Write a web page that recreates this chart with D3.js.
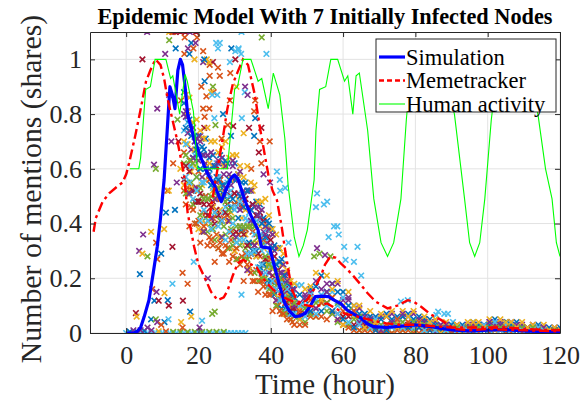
<!DOCTYPE html>
<html>
<head>
<meta charset="utf-8">
<script src="https://cdn.jsdelivr.net/npm/d3@7"></script>
<style>
  body { margin: 0; background: #fff; }
  text { font-family: "Liberation Serif", "Times New Roman", serif; }
</style>
</head>
<body>
<svg id="chart" width="582" height="404"></svg>
<script>

// DATA ========================================================================

var xTicks = [0, 20, 40, 60, 80, 100, 120],
    yTicks = [0, 0.2, 0.4, 0.6, 0.8, 1];

// hours at which the simulation runs are sampled (two interleaved grids)
var runHours = [16,17,18,19,20,21,22,23,24,25,26,27,28,29,30,31,32,33,34,35,36,37,38,39,40,41,42,43,44,45,46,
                48,51,54,57,60,63,66,69,72,75,78,81,84,87,90,93,96,99,102,105,108,111,114,117,120];
var runHoursB = [16.5,17.5,18.5,19.5,20.5,21.5,22.5,23.5,24.5,25.5,26.5,27.5,28.5,29.5,30.5,31.5,32.5,33.5,34.5,35.5,
                 36.5,37.5,38.5,39.5,40.5,41.5,42.5,43.5,44.5,45.5,46.5,
                 49.5,52.5,55.5,58.5,61.5,64.5,67.5,70.5,73.5,76.5,79.5,82.5,85.5,88.5,91.5,94.5,97.5,100.5,103.5,
                 106.5,109.5,112.5,115.5,118.5];

var run1 = [.88,.79,.76,.70,.72,.68,.71,.64,.65,.61,.65,.62,.62,.57,.62,.58,.55,.55,.52,.47,.48,.47,.42,.41,.38,.32,.31,.27,.22,.19,.16,
            .14,.16,.21,.18,.15,.10,.07,.06,.07,.06,.07,.06,.05,.03,.03,.03,.04,.03,.05,.04,.04,.02,.03,.02,.02];
var run2 = [.52,.51,.46,.40,.41,.37,.40,.35,.32,.36,.33,.29,.31,.34,.30,.27,.28,.29,.24,.19,.23,.19,.17,.17,.14,.15,.10,.07,.07,.07,.04,
            .03,.06,.06,.07,.03,.01,.01,.01,.00,.01,.01,.00,.01,.01,.00,.00,.00,.01,.01,.00,.01,.00,.00,.00,.00];
var run3 = [.70,.69,.59,.61,.52,.54,.56,.49,.52,.49,.45,.52,.47,.44,.47,.49,.42,.36,.39,.40,.33,.34,.31,.25,.29,.24,.19,.19,.15,.14,.09,
            .09,.13,.12,.13,.10,.06,.04,.04,.03,.04,.04,.03,.03,.02,.01,.02,.02,.02,.03,.03,.02,.02,.02,.01,.01];
var run4 = [.80,.73,.67,.70,.63,.57,.62,.58,.61,.55,.56,.58,.51,.54,.56,.51,.47,.49,.46,.40,.43,.42,.37,.33,.32,.30,.23,.22,.21,.16,.13,
            .11,.15,.16,.18,.12,.08,.06,.05,.06,.05,.06,.05,.03,.03,.02,.02,.03,.03,.03,.03,.03,.02,.02,.01,.01];
var run5 = [.62,.55,.55,.48,.48,.50,.42,.43,.38,.43,.41,.39,.43,.38,.34,.36,.37,.31,.32,.33,.28,.23,.25,.24,.19,.18,.18,.14,.09,.09,.08,
            .06,.07,.11,.07,.06,.05,.02,.02,.01,.03,.02,.02,.02,.01,.01,.01,.01,.01,.02,.02,.01,.01,.01,.01,.00];
var run6 = [.74,.77,.61,.65,.65,.55,.50,.58,.53,.62,.49,.44,.55,.52,.45,.47,.51,.42,.44,.37,.41,.36,.33,.38,.25,.26,.26,.18,.18,.13,.14,
            .10,.14,.14,.15,.13,.07,.05,.05,.03,.05,.06,.04,.03,.02,.02,.02,.02,.03,.04,.03,.02,.02,.02,.01,.01];
var run7 = [.56,.53,.52,.48,.48,.48,.44,.47,.48,.45,.49,.50,.47,.50,.51,.47,.49,.49,.46,.47,.43,.44,.41,.35,.34,.28,.23,.18,.16,.12,.09,
            .07,.08,.12,.08,.06,.03,.03,.02,.02,.02,.03,.02,.02,.01,.01,.01,.02,.01,.02,.01,.01,.01,.01,.00,.01];
var run8 = [.84,.81,.72,.72,.65,.65,.60,.60,.55,.57,.52,.54,.49,.46,.47,.42,.38,.38,.33,.30,.30,.24,.25,.19,.19,.14,.13,.09,.09,.07,.07,
            .05,.08,.08,.08,.05,.02,.02,.01,.01,.02,.02,.02,.01,.01,.01,.00,.01,.01,.01,.01,.01,.00,.01,.00,.00];
var run9 = [.66,.53,.63,.53,.59,.44,.50,.56,.42,.49,.56,.42,.43,.37,.47,.36,.46,.38,.28,.37,.36,.28,.34,.27,.27,.19,.19,.20,.11,.13,.10,
            .08,.12,.11,.13,.08,.08,.02,.03,.03,.05,.04,.04,.02,.02,.01,.01,.02,.02,.02,.02,.02,.02,.01,.01,.01];
var run10 = [.54,.81,.53,.67,.38,.71,.40,.62,.46,.53,.35,.61,.41,.56,.30,.58,.33,.45,.23,.52,.28,.39,.20,.39,.24,.26,.13,.25,.07,.19,.11,
             .05,.17,.12,.16,.03,.10,.02,.04,.06,.02,.06,.03,.04,.00,.02,.01,.04,.02,.01,.04,.02,.02,.00,.01,.01];

// runs on the half-hour grid
var run11 = [.81,.74,.75,.71,.72,.65,.65,.66,.61,.63,.64,.61,.58,.61,.57,.59,.52,.52,.52,.46,.46,.45,.39,.38,.36,.31,.26,.25,.22,.17,.16,
             .14,.19,.18,.18,.12,.09,.06,.06,.07,.06,.07,.05,.04,.03,.03,.03,.03,.04,.04,.04,.03,.03,.02,.02];
var run12 = [.51,.51,.47,.40,.43,.37,.37,.40,.34,.31,.35,.36,.31,.32,.27,.32,.27,.27,.29,.22,.19,.20,.20,.16,.15,.10,.12,.08,.07,.05,.06,
             .04,.06,.08,.04,.03,.01,.02,.01,.00,.01,.01,.01,.00,.01,.00,.00,.01,.01,.01,.00,.01,.00,.01,.00];
var run13 = [.69,.61,.64,.57,.60,.55,.49,.54,.49,.57,.50,.46,.50,.46,.46,.48,.39,.41,.41,.36,.35,.30,.35,.29,.25,.25,.18,.18,.16,.12,.11,
             .10,.12,.15,.10,.08,.05,.05,.03,.04,.04,.05,.03,.02,.02,.02,.02,.02,.02,.03,.03,.02,.02,.01,.01];
var run14 = [.61,.59,.52,.48,.51,.47,.43,.46,.40,.43,.41,.44,.41,.36,.37,.39,.36,.32,.29,.32,.29,.25,.27,.22,.21,.16,.17,.12,.11,.08,.09,
             .07,.09,.11,.07,.06,.03,.03,.02,.03,.02,.03,.02,.02,.01,.01,.01,.01,.01,.02,.02,.01,.01,.01,.01];
var run15 = [.75,.78,.64,.67,.60,.67,.59,.54,.61,.56,.54,.63,.56,.49,.56,.50,.46,.52,.45,.39,.43,.40,.35,.40,.31,.25,.26,.21,.18,.14,.13,
             .12,.17,.15,.15,.10,.07,.06,.05,.05,.06,.05,.05,.03,.02,.02,.02,.03,.03,.03,.03,.02,.02,.02,.01];
var run16 = [.47,.39,.45,.40,.33,.39,.32,.34,.26,.31,.29,.32,.26,.28,.31,.25,.19,.25,.22,.19,.15,.19,.14,.14,.08,.12,.08,.07,.05,.05,.03,
             .03,.06,.05,.05,.02,.01,.01,.00,.00,.01,.00,.00,.01,.00,.00,.00,.00,.00,.01,.00,.00,.00,.00,.00];
var run17 = [.87,.86,.77,.78,.74,.71,.75,.70,.70,.66,.68,.70,.64,.65,.65,.61,.57,.61,.55,.54,.48,.48,.49,.43,.38,.36,.31,.29,.23,.19,.18,
             .16,.22,.21,.19,.15,.10,.08,.07,.08,.08,.08,.06,.05,.04,.03,.04,.04,.05,.05,.04,.04,.03,.03,.02];
var run18 = [.79,.51,.64,.53,.70,.37,.59,.42,.49,.62,.35,.53,.41,.63,.35,.45,.50,.23,.41,.32,.43,.22,.36,.22,.36,.12,.22,.14,.19,.07,.10,
             .13,.09,.15,.05,.13,.04,.05,.01,.04,.07,.02,.04,.00,.03,.01,.02,.01,.04,.03,.01,.02,.00,.02,.01];
var run19 = [.65,.63,.62,.57,.53,.49,.49,.50,.51,.53,.50,.48,.45,.42,.39,.39,.39,.39,.39,.39,.35,.32,.28,.25,.24,.22,.20,.17,.13,.12,.11,
             .09,.11,.11,.11,.08,.06,.04,.03,.03,.04,.04,.03,.02,.01,.02,.02,.02,.02,.02,.02,.02,.02,.01,.01];
var run20 = [.57,.55,.49,.52,.41,.45,.41,.38,.44,.39,.41,.34,.37,.40,.33,.34,.34,.29,.29,.30,.24,.25,.22,.17,.19,.16,.12,.13,.09,.07,.07,
             .06,.07,.10,.07,.04,.03,.02,.02,.02,.02,.02,.01,.01,.01,.01,.01,.01,.01,.01,.01,.01,.01,.01,.00];

// loose markers: [hour, value, colour index]
var loosePoints = [
  [4.7,.36,3],[6.9,.37,2],[8.3,.33,1],[3.6,.30,3],[4.5,.29,2],[5.9,.28,4],[9.7,.29,0],[8.6,.27,1],[12.8,.315,6],
  [3.8,.215,0],[15.6,.22,1],[12.8,.18,5],[17,.18,1],[7.2,.16,1],[8.4,.15,3],[10.6,.146,2],[7.8,.118,0],[9,.118,6],
  [11.5,.12,0],[11.8,.10,6],[15.7,.118,6],[17.7,.078,0],[18,.06,2],[24.5,.078,4],[23.8,.07,4],[21,.045,5],[2.7,.073,6],
  [2.9,.06,2],[6.9,.05,0],[8.2,.05,4],[8.6,.04,3],[10.6,.04,0],[11.7,.05,5],[9.7,.03,1],[15.2,.04,2],[15.6,.02,1],
  [20.3,.02,3],[5.9,.02,3],[22.6,.2,3],[18.7,.26,5],[10.5,.38,2],[11,.44,0],[11.4,.52,1],[11.8,.52,2],[4.5,1.0,6],
  [10.8,1.02,3],[8.6,.82,3],[7.7,.615,3],[8.2,.60,4],[11.9,.87,3],[5.8,1.10,3],[11.9,1.10,2],[11.9,1.07,4],[12.8,1.10,1],
  [15,1.10,6],[13.7,1.04,0],[16.1,1.02,1],[13,.62,1],[14,.55,3],[14.5,.70,6],[13.5,.45,0],[15,.60,2],[14.2,.78,4],
  [15.2,.85,1],[12.5,.70,3],
  [12.9,1.10,1],[13.6,1.10,6],[16.4,1.10,6],[17.6,1.10,3],[16.2,1.08,1],[18,1.06,0],[19.2,1.06,3],[17.1,1.04,3],
  [21.3,1.03,1],[25.9,1.06,5],[31,1.035,5],[31.8,1.02,5],[31.9,1.10,5],[37.5,1.08,4],[17.5,1.02,0],[18.6,1.04,1],
  [18.9,1.0,2],[21.3,.99,3],[22.3,1.0,2],[23.1,.98,1],[24,.99,6],[28.7,.99,5],[29.1,1.04,0],[30.2,1.0,6],[25.4,.97,1],
  [25.9,.94,1],[23.1,.94,1],[21.7,.92,0],[20.8,.90,1],[24,.90,4],[24.2,.88,1],[22.2,.865,1],[21.3,.82,1],[23,.82,1],
  [21.7,.79,1],[26.8,.80,0],[28.7,.85,1],[32.9,.90,3],[35.7,.85,1],[35.7,.785,0],[32,.785,5],[32.5,.73,2],[34,.75,6],
  [35.4,.72,0],[29.6,.756,6],[26.4,.71,1],[37,.70,1],[36.7,.66,6],[21.6,1.0,0],[23,.99,2],[24.9,1.06,5],[25.4,1.04,5],
  [30.2,1.03,5],[31.1,1.04,5],[38.8,1.02,5],[23.5,.88,2],[23.8,.87,5],[25.2,.87,5],[32.8,.88,5],[33.6,.87,3],
  [35.4,.81,1],[30.5,.90,2],[28.8,.95,1],[21.6,.75,6],[24.4,.785,5],[24.7,.76,4],[28.1,.76,1],[29,.72,0],[37.4,.75,6],
  [37.4,.62,1],[39.7,.70,1],[34.6,.60,1],[19.3,1.10,6],[19.6,1.08,1],
  [41.7,.59,5],[42.5,.56,5],[44,.53,5],[42.6,.52,5],[38,.58,3],[39.8,.55,3],[44.9,.33,5],[31.9,.14,5],[47.3,.175,5],
  [48.5,.175,5],[52.8,.51,5],[55.6,.48,5],[54.7,.47,5],[52.5,.46,5],[57.5,.39,5],[58.4,.39,5],[56,.35,5],[58.8,.36,5],
  [60.3,.315,5],[64,.315,5],[60.7,.267,5],[63,.26,5],[65,.21,5],[52,.28,4],[53.5,.29,4],[55,.285,3],[56.5,.28,4],
  [52.8,.31,3],[76,.115,5],[77.9,.12,5],[86.3,.078,5],[88,.07,5],[85.8,.066,5],[89,.07,5],[90.4,.04,5],[96,.03,6],
  [105.3,.04,0],[102,.03,5]
];

// markers lying on the zero line: [hour, value, colour index]
var zeroPoints = [
  [0,0,5],[1,0,5],[2,0,5],[3,0,5],[4,0,5],[5,0,5],[6,0,5],[7,0,5],[8,0,5],[9,0,5],[10,0,5],[11,0,5],
  [12,0,5],[13,0,5],[14,0,5],[15,0,5],[16,0,5],[17,0,5],[18,0,5],[19,0,5],[20,0,5],[21,0,5],[22,0,5],
  [23,0,5],[24,0,5],[25,0,5],[26,0,5],[27,0,5],[28,0,5],[29,0,5],[30,0,5],[31,0,5],[32,0,5],[33,0,5],
  [1,.005,0],[3,.005,0],[5,.008,0],[2,.01,3],[4,.01,3],[7,.01,3],[13,.004,4],[15,.004,4],[17,.004,4],
  [19,.004,4],[21,.004,4],[23,.004,4],[25,.004,4],[27,.004,4],[9,.006,2],[11,.006,1]
];

var simulation = [
  [0,0],[2,0],[3,.005],[4,.02],[5,.06],[6.3,.12],[7.5,.22],[8.6,.315],[9.5,.42],[10.5,.56],[11.4,.75],[12.1,.90],
  [12.8,.87],[13.5,.82],[14.3,.96],[15,1.0],[15.6,.98],[16.3,.90],[17,.80],[18.8,.71],[20.7,.64],[22.6,.58],
  [24.4,.54],[26.3,.48],[27.5,.52],[29,.565],[30,.578],[31,.56],[32.8,.486],[34.5,.43],[36.5,.376],[37.4,.315],
  [39.7,.31],[41.1,.24],[42.5,.17],[43.9,.108],[45.2,.08],[46.7,.06],[48,.062],[49.5,.072],[51,.10],[52.3,.133],
  [54,.135],[56,.133],[57.5,.12],[59.3,.108],[61,.085],[62.8,.07],[64.9,.055],[66.5,.035],[68.5,.023],[72,.02],
  [76,.025],[80,.03],[84.4,.023],[88,.015],[90.8,.01],[95,.008],[100,.01],[105,.012],[110,.008],[115,.005],[120,.005]
];

var memetrackerA = [
  [-9,.37],[-8.4,.42],[-6.5,.48],[-4.7,.51],[-2.5,.535],[-1,.55],[0,.58],[.8,.62],[2.5,.72],[3.9,.81],[5.5,.92],
  [6.7,.96],[8.1,1.0],[9.5,.98],[10.5,.93],[11.4,.86],[12.8,.78],[14.2,.70],[16,.58],[17,.44],[18.8,.315],[20,.25],
  [21.6,.206],[23.5,.15],[25.3,.12],[27,.13],[28.1,.157],[29.5,.21],[30.9,.255],[32.4,.267],[34,.255],[36.1,.24],
  [37.4,.21],[39,.18],[40.8,.157],[43.6,.13],[47.3,.108],[51.9,.096],[55.6,.108],[60.3,.072],[64,.06],[67.7,.047],
  [72,.035],[76,.03],[80,.03],[85,.025],[90,.02],[95,.02],[100,.02],[105,.02],[110,.015],[115,.012],[120,.01]
];

var memetrackerB = [
  [23,.42],[24.5,.54],[25.8,.64],[26.7,.71],[28,.82],[29.5,.91],[30.9,.956],[32.3,1.0],[33.7,.98],[35.6,.87],[37,.75],
  [39.3,.58],[40.5,.52],[41.7,.486],[43,.39],[44,.30],[45,.22],[45.9,.157],[47,.125],[48.2,.108],[50,.12],[52,.16],
  [53.8,.206],[55,.25],[56.5,.28],[58,.275],[59.3,.255],[61,.235],[63,.206],[65,.175],[66.8,.145],[69,.115],
  [72.3,.09],[75,.10],[77.9,.12],[79.5,.115],[81.6,.096],[84,.07],[87.2,.047],[90.8,.015],[95,.01],[100,.015],
  [105,.012],[110,.01],[115,.008],[120,.006]
];

var humanActivity = [
  [1,.60],[3.5,.60],[4,.64],[5.4,.89],[6.7,.90],[8,1.0],[11,1.0],[12.3,.93],[12.9,.94],[14.8,.80],[16.3,.945],
  [16.9,.92],[18.6,.81],[19.7,.60],[28,.60],[30,.89],[30.8,.90],[32.3,1.0],[34.5,1.0],[36.5,.92],[37.5,.93],
  [39.3,.82],[40.7,.95],[42.5,.87],[43.9,.71],[44.8,.54],[46.5,.35],[47.8,.28],[49,.32],[50.1,.376],[52,.56],
  [52.5,.74],[53.5,.89],[55.2,.90],[56.6,1.0],[58.5,1.0],[60.4,.92],[61.3,.94],[62.7,.80],[63.6,.94],[64.5,.95],
  [66.8,.74],[68.5,.49],[70.5,.33],[72.3,.28],[74,.33],[76,.49],[77.5,.78],[79,1.0],[82,1.0],[84,.95],[86,.98],
  [88,.95],[90.8,.80],[93.6,.49],[95,.33],[96.4,.28],[97.8,.33],[99.2,.49],[101,.78],[103,1.0],[106,1.0],
  [108,.95],[110,.98],[112,.95],[114,.79],[116,.60],[117.8,.49],[119,.33],[120,.28]
];

var runColors = ["#0072BD", "#D95319", "#EDB120", "#7E2F8E", "#77AC30", "#4DBEEE", "#A2142F"];

// CHART =======================================================================

var runs = [run1, run2, run3, run4, run5, run6, run7, run8, run9, run10],
    runsB = [run11, run12, run13, run14, run15, run16, run17, run18, run19, run20];

var svg = d3.select("#chart"),
    margin = {top: 32, right: 22, bottom: 71, left: 90},
    width = +svg.attr("width") - margin.left - margin.right,
    height = +svg.attr("height") - margin.top - margin.bottom,
    axisColor = "#262626";

var x = d3.scaleLinear().domain([-10, 120]).range([0, width]),
    y = d3.scaleLinear().domain([0, 1.1]).range([height, 0]);

var g = svg.append("g")
    .attr("transform", "translate(" + margin.left + "," + margin.top + ")");

svg.append("defs").append("clipPath").attr("id", "plot-clip")
  .append("rect").attr("width", width).attr("height", height);

// grid
g.append("g").selectAll("line").data(xTicks).enter().append("line")
    .attr("x1", function(d) { return x(d); }).attr("x2", function(d) { return x(d); })
    .attr("y1", 0).attr("y2", height)
    .attr("stroke", "#e3e3e3").attr("stroke-width", 1);
g.append("g").selectAll("line").data(yTicks).enter().append("line")
    .attr("y1", function(d) { return y(d); }).attr("y2", function(d) { return y(d); })
    .attr("x1", 0).attr("x2", width)
    .attr("stroke", "#e3e3e3").attr("stroke-width", 1);

var plot = g.append("g").attr("clip-path", "url(#plot-clip)");

// scatter of simulation runs
var marker = "M-2.8,-2.8L2.8,2.8M-2.8,2.8L2.8,-2.8";
var pts = [];
function addRuns(list, hours, offset) {
    list.forEach(function(r, i) {
        r.forEach(function(v, j) {
            if (v !== undefined && hours[j] !== undefined) pts.push([hours[j], v, (i + offset) % 7]);
        });
    });
}
addRuns(runs, runHours, 0);
addRuns(runsB, runHoursB, 10);

var allPts = zeroPoints.concat(loosePoints).concat(pts);

plot.append("g").selectAll("path").data(allPts).enter().append("path")
    .attr("d", marker)
    .attr("transform", function(d) { return "translate(" + x(d[0]) + "," + y(d[1]) + ")"; })
    .attr("fill", "none")
    .attr("stroke", function(d) { return runColors[d[2]]; })
    .attr("stroke-width", 1.6);

var line = d3.line()
    .x(function(d) { return x(d[0]); })
    .y(function(d) { return y(d[1]); });

plot.append("path").datum(simulation)
    .attr("d", line).attr("fill", "none")
    .attr("stroke", "#0000FF").attr("stroke-width", 3.2)
    .attr("stroke-linejoin", "round");

[memetrackerA, memetrackerB].forEach(function(s) {
    plot.append("path").datum(s)
        .attr("d", line).attr("fill", "none")
        .attr("stroke", "#FF0000").attr("stroke-width", 2.4)
        .attr("stroke-dasharray", "10,4,3,4");
});

plot.append("path").datum(humanActivity)
    .attr("d", line).attr("fill", "none")
    .attr("stroke", "#00FF00").attr("stroke-width", 1.1);

// axes, ticks pointing inwards on all four sides
function styleAxis(sel) {
    sel.selectAll("path, line").attr("stroke", axisColor);
    sel.selectAll("text")
        .attr("fill", axisColor)
        .style("font-family", '"Liberation Serif", "Times New Roman", serif')
        .style("font-size", "26px");
}

g.append("g")
    .attr("transform", "translate(0," + height + ")")
    .call(d3.axisBottom(x).tickValues(xTicks).tickSizeInner(-5).tickSizeOuter(0).tickPadding(13))
    .call(styleAxis);

g.append("g")
    .call(d3.axisLeft(y).tickValues(yTicks).tickSizeInner(-5).tickSizeOuter(0).tickPadding(8)
        .tickFormat(function(d) { return d; }))
    .call(styleAxis);

g.append("g")
    .call(d3.axisTop(x).tickValues(xTicks).tickSizeInner(-5).tickSizeOuter(0).tickFormat(""))
    .call(styleAxis);

g.append("g")
    .attr("transform", "translate(" + width + ",0)")
    .call(d3.axisRight(y).tickValues(yTicks).tickSizeInner(-5).tickSizeOuter(0).tickFormat(""))
    .call(styleAxis);

// labels
svg.append("text")
    .attr("x", margin.left + width / 2).attr("y", 24)
    .attr("text-anchor", "middle")
    .style("font-size", "22.3px").style("font-weight", "bold")
    .attr("fill", "#000")
    .text("Epidemic Model With 7 Initially Infected Nodes");

svg.append("text")
    .attr("x", margin.left + width / 2).attr("y", 394)
    .attr("text-anchor", "middle")
    .style("font-size", "29px")
    .attr("fill", axisColor)
    .text("Time (hour)");

svg.append("text")
    .attr("transform", "translate(41,189) rotate(-90)")
    .attr("text-anchor", "middle")
    .style("font-size", "29.8px")
    .attr("fill", axisColor)
    .text("Number of mentions (shares)");

// legend
var legendItems = [
    {name: "Simulation", color: "#0000FF", width: 3.2, dash: null},
    {name: "Memetracker", color: "#FF0000", width: 2.4, dash: "5,3"},
    {name: "Human activity", color: "#00FF00", width: 1.1, dash: null}
];

var legend = svg.append("g").attr("transform", "translate(376,39)");
legend.append("rect")
    .attr("width", 180).attr("height", 73)
    .attr("fill", "#fff").attr("stroke", axisColor).attr("stroke-width", 1);

var item = legend.selectAll(".item").data(legendItems).enter().append("g")
    .attr("class", "item")
    .attr("transform", function(d, i) { return "translate(0," + (18 + i * 23.5) + ")"; });

item.append("line")
    .attr("x1", 3).attr("x2", 29)
    .attr("stroke", function(d) { return d.color; })
    .attr("stroke-width", function(d) { return d.width; })
    .attr("stroke-dasharray", function(d) { return d.dash; });

item.append("text")
    .attr("x", 30).attr("y", 7.5)
    .style("font-size", "22.5px")
    .attr("fill", "#000")
    .text(function(d) { return d.name; });

</script>
</body>
</html>
